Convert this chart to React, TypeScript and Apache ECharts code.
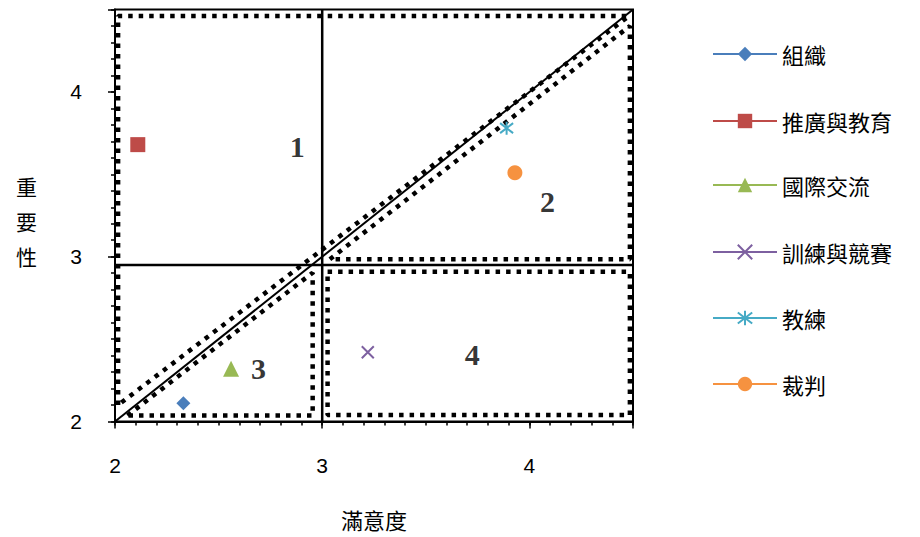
import React, { useEffect, useRef } from 'react';
import * as echarts from 'echarts';

// ---- data ----
const seriesNames = ['組織', '推廣與教育', '國際交流', '訓練與競賽', '教練', '裁判'];
const satisfaction = [2.33, 2.11, 2.56, 3.22, 3.89, 3.93];
const importance = [2.11, 3.68, 2.32, 2.42, 3.78, 3.51];
const seriesColors = ['#4A7EBB', '#BE4B48', '#98B954', '#7D60A0', '#46AAC5', '#F69240'];
const seriesSymbols = [
  'diamond',
  'rect',
  'triangle',
  'path://M0,0L10,10M10,0L0,10',
  'path://M0,0L10,10M10,0L0,10M5,-1.5L5,11.5',
  'circle',
];
const symbolSizes = [14, 15, 16, 12, 13, 15];

const axisMin = 2;
const axisMax = 4.5;
const meanSatisfaction = 3.0;
const meanImportance = 2.95;

const region1 = [[2.015, 2.1], [2.015, 4.46], [4.48, 4.46], [2.015, 2.1]];
const region2 = [[3.037, 2.985], [4.485, 4.4], [4.485, 2.985], [3.037, 2.985]];
const region3 = [[2.06, 2.036], [2.954, 2.903], [2.954, 2.036], [2.06, 2.036]];
const region4 = [[3.026, 2.909], [4.485, 2.909], [4.485, 2.039], [3.026, 2.039], [3.026, 2.909]];
const diagonal = [[2, 2], [4.5, 4.5]];
const vLine = [[meanSatisfaction, axisMin], [meanSatisfaction, axisMax]];
const hLine = [[axisMin, meanImportance], [axisMax, meanImportance]];

const regionLabels = [
  { name: '1', value: [2.88, 3.667] },
  { name: '2', value: [4.087, 3.333] },
  { name: '3', value: [2.692, 2.321] },
  { name: '4', value: [3.724, 2.406] },
];

const legendCenters = [55, 122, 186, 253, 319, 385];

const labelFont = '"Liberation Sans Narrow", "Liberation Sans", sans-serif';
const cjkFont = '"Noto Sans CJK TC", "Noto Sans CJK SC", sans-serif';

function buildOption(): any {
  const dotted = (data: number[][]) => ({
    type: 'line',
    data,
    symbol: 'none',
    silent: true,
    z: 1,
    lineStyle: { color: '#000', width: 4.5, type: [4.5, 6] },
  });
  const solid = (data: number[][], width: number) => ({
    type: 'line',
    data,
    symbol: 'none',
    silent: true,
    z: 2,
    lineStyle: { color: '#000', width, type: 'solid' },
  });

  const pointSeries = seriesNames.map((name, i) => ({
    type: 'line',
    name,
    data: [[satisfaction[i], importance[i]]],
    symbol: seriesSymbols[i],
    symbolSize: symbolSizes[i],
    showSymbol: true,
    z: 5,
    lineStyle: { color: seriesColors[i], width: 2.5 },
    itemStyle: {
      color: seriesColors[i],
      borderColor: seriesColors[i],
      borderWidth: i === 3 || i === 4 ? 2 : 0,
    },
  }));

  const baseAxis = (interval: number, isX: boolean, major: boolean) => ({
    type: 'value',
    min: axisMin,
    max: axisMax,
    interval,
    position: isX ? 'bottom' : 'left',
    axisLine: { show: !major, onZero: false, lineStyle: { color: '#000', width: 2 } },
    axisTick: {
      show: true,
      inside: false,
      length: major ? 7 : 4,
      lineStyle: { color: '#000', width: 1.5 },
    },
    minorTick: major
      ? { show: false }
      : { show: true, splitNumber: 5, length: 4, lineStyle: { color: '#000', width: 1.5 } },
    splitLine: { show: false },
    axisLabel: major
      ? { show: false }
      : {
          show: true,
          margin: 33,
          fontSize: 21,
          color: '#000',
          fontFamily: labelFont,
          formatter: (v: number) => (Math.abs(v - Math.round(v)) < 1e-6 ? String(Math.round(v)) : ''),
        },
  });

  return {
    animation: false,
    grid: {
      left: 115,
      right: 287,
      top: 9.5,
      bottom: 115.5,
      show: true,
      borderColor: '#000',
      borderWidth: 2,
      backgroundColor: 'transparent',
    },
    xAxis: [baseAxis(0.5, true, false), baseAxis(1, true, true)],
    yAxis: [baseAxis(0.5, false, false), baseAxis(1, false, true)],
    legend: seriesNames.map((n, i) => ({
      data: [n],
      orient: 'vertical',
      left: 712,
      top: legendCenters[i] - 12,
      padding: 0,
      itemWidth: 64,
      itemHeight: 18,
      selectedMode: false,
      textStyle: { fontSize: 22, color: '#000', fontFamily: cjkFont },
    })),
    graphic: [
      {
        type: 'text',
        left: 341,
        top: 508,
        style: { text: '滿意度', fontSize: 22, fill: '#000', fontFamily: cjkFont },
      },
      {
        type: 'text',
        left: 16,
        top: 168,
        style: { text: '重\n要\n性', fontSize: 21, lineHeight: 35, fill: '#000', fontFamily: cjkFont },
      },
    ],
    series: [
      dotted(region1),
      dotted(region2),
      dotted(region3),
      dotted(region4),
      solid(diagonal, 2),
      solid(vLine, 2.5),
      solid(hLine, 2.5),
      ...pointSeries,
      {
        type: 'scatter',
        data: regionLabels,
        symbol: 'circle',
        symbolSize: 1,
        silent: true,
        z: 6,
        itemStyle: { color: 'transparent' },
        label: {
          show: true,
          position: 'inside',
          formatter: '{b}',
          fontSize: 30,
          fontWeight: 'bold',
          color: '#000',
          fontFamily: '"Liberation Serif", "Times New Roman", serif',
        },
      },
    ],
  };
}

export default function App() {
  const ref = useRef<HTMLDivElement>(null);
  useEffect(() => {
    if (!ref.current) return;
    const chart = echarts.init(ref.current, null, { renderer: 'svg' });
    chart.setOption(buildOption());
    return () => chart.dispose();
  }, []);
  return (
    <div
      ref={ref}
      style={{ position: 'absolute', left: 0, top: 0, width: 920, height: 537, background: '#fff' }}
    />
  );
}
